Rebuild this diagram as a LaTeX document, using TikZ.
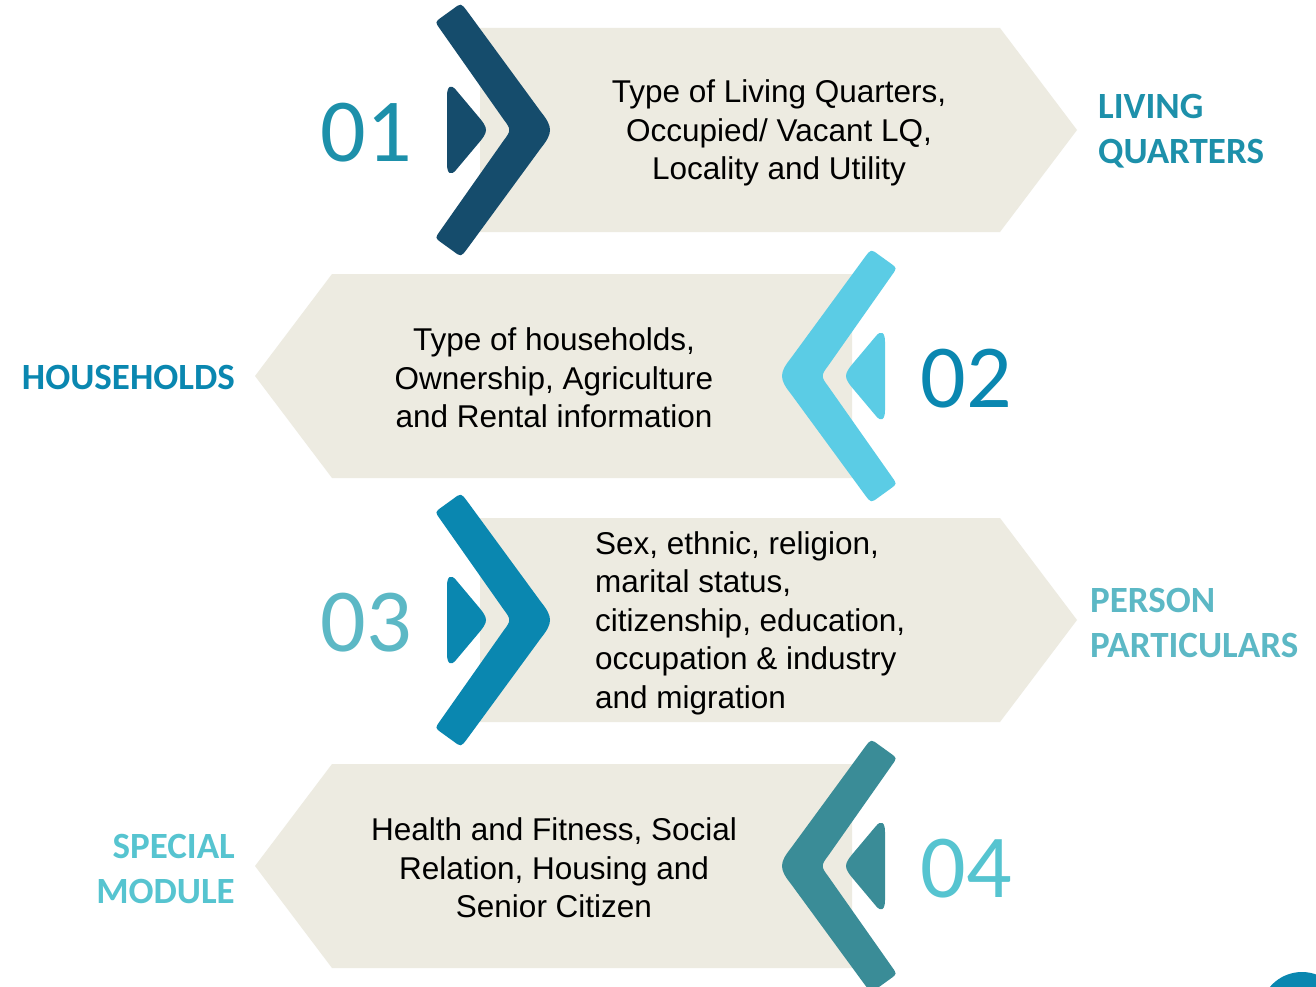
\documentclass[tikz,border=0pt]{standalone}
\usepackage{fontspec}
\setmainfont{Liberation Sans}
\newfontfamily\labfont{Carlito}
\definecolor{beige}{HTML}{EDEBE1}
\definecolor{navy}{HTML}{154C6C}
\definecolor{cA}{HTML}{1D90AA}
\definecolor{cyanc}{HTML}{5BCCE5}
\definecolor{blueb}{HTML}{0A87B0}
\definecolor{cC}{HTML}{5CB8C5}
\definecolor{tealc}{HTML}{3A8C97}
\definecolor{cD}{HTML}{56C4D0}
\tikzset{
  bodytext/.style={inner sep=0pt, align=center, text=black, font=\fontsize{31.5}{38.5}\selectfont},
  labeltext/.style={inner sep=0pt, font=\labfont\bfseries\fontsize{37}{45.5}\selectfont},
  numtext/.style={inner sep=0pt, font=\labfont\fontsize{90}{90}\selectfont},
}
% one row drawn pointing right; mirrored for left rows
\newcommand{\rowshape}[1]{%
  \fill[beige] (480,-102) -- (1000,-102) -- (1077,0) -- (1000,102) -- (480,102) -- cycle;
  \fill[#1] (504,-10) -- (440,-101) .. controls (435,-108) .. (441.5,-112.7)
     -- (453,-121) .. controls (461,-127) .. (467,-119)
     -- (541,-18) .. controls (553,-3) and (553,3) .. (541,18)
     -- (467,119) .. controls (461,127) .. (453,121)
     -- (441.5,112.7) .. controls (435,108) .. (440,101)
     -- (504,10) .. controls (511,1) and (511,-1) .. (504,-10) -- cycle;
  \fill[#1] (447,-34) .. controls (447,-44) and (451,-46) .. (456,-40)
     -- (477,-15) .. controls (489,-1) and (489,1) .. (477,15)
     -- (456,40) .. controls (451,46) and (447,44) .. (447,34) -- cycle;}
\newcommand{\rchev}[2]{\begin{scope}[shift={(0,#1)}]\rowshape{#2}\end{scope}}
\newcommand{\lchev}[2]{\begin{scope}[shift={(1332,#1)}, xscale=-1]\rowshape{#2}\end{scope}}
\begin{document}
\begin{tikzpicture}[x=1pt, y=-1pt]
\useasboundingbox (0,0) rectangle (1316,987);
\clip (0,0) rectangle (1316,987);
\fill[white] (0,0) rectangle (1316,987);
\rchev{130}{navy}
\lchev{376}{cyanc}
\rchev{620}{blueb}
\lchev{866}{tealc}
\fill[blueb] (1302,1014) circle (42);
% numbers
\node[numtext, text=cA] (n1) at (366,133) {01};
\node[numtext, text=blueb] (n2) at (966,379) {02};
\node[numtext, text=cC] (n3) at (366,623) {03};
\node[numtext, text=cD] (n4) at (966,869) {04};
% body texts
\node[bodytext] (t1) at (779,133) {Type of Living Quarters,\\Occupied/ Vacant LQ,\\Locality and Utility};
\node[bodytext] (t2) at (554,378) {Type of households,\\Ownership, Agriculture\\and Rental information};
\node[bodytext, align=left, anchor=west] (t3) at (595,623) {Sex, ethnic, religion,\\marital status,\\citizenship, education,\\occupation \& industry\\and migration};
\node[bodytext] (t4) at (554,868) {Health and Fitness, Social\\Relation, Housing and\\Senior Citizen};
% labels
\node[labeltext, text=cA, align=left, anchor=west] (l1) at (1098,131) {LIVING\\QUARTERS};
\node[labeltext, text=blueb, anchor=east] (l2) at (235,378) {HOUSEHOLDS};
\node[labeltext, text=cC, align=left, anchor=west] (l3) at (1090,623) {PERSON\\PARTICULARS};
\node[labeltext, text=cD, align=right, anchor=east] (l4) at (235,869) {SPECIAL\\MODULE};
\end{tikzpicture}
\end{document}
